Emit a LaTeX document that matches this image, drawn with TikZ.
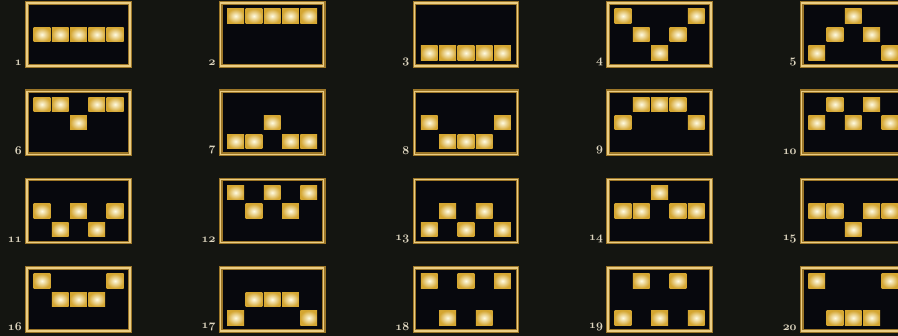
\documentclass[tikz,border=0pt]{standalone}
\definecolor{bg}{HTML}{141511}
\definecolor{inner}{HTML}{07080D}
\definecolor{goldA}{HTML}{9C7628}
\definecolor{goldB}{HTML}{EBCD84}
\definecolor{cellout}{HTML}{D4A632}
\definecolor{cellin}{HTML}{FFFBE2}
\definecolor{lbl}{HTML}{DED6C0}
\begin{document}
\begin{tikzpicture}[x=1pt,y=-1pt,
  framebox/.style={fill=inner},
  frameouter/.style={draw=goldA,line width=3.8pt},
  frameinner/.style={draw=goldB,line width=1.3pt},
  cellbox/.style={inner color=cellin,outer color=cellout},
  numlabel/.style={anchor=south east,inner sep=0pt,text=lbl,font=\usefont{OML}{cmm}{b}{it}\fontsize{12}{12}\selectfont}]
\useasboundingbox (0,0) rectangle (898,336);
\clip (0,0) rectangle (898,336);
\fill[bg] (0,0) rectangle (898,336);
\foreach \n/\a/\b/\c/\d/\e in {
  1/1/1/1/1/1, 2/0/0/0/0/0, 3/2/2/2/2/2, 4/0/1/2/1/0, 5/2/1/0/1/2,
  6/0/0/1/0/0, 7/2/2/1/2/2, 8/1/2/2/2/1, 9/1/0/0/0/1, 10/1/0/1/0/1,
  11/1/2/1/2/1, 12/0/1/0/1/0, 13/2/1/2/1/2, 14/1/1/0/1/1, 15/1/1/2/1/1,
  16/0/1/1/1/0, 17/2/1/1/1/2, 18/0/2/0/2/0, 19/2/0/2/0/2, 20/0/2/2/2/0}{
  \pgfmathsetmacro{\col}{int(mod(\n-1,5))}
  \pgfmathsetmacro{\row}{int((\n-1)/5)}
  \pgfmathsetmacro{\xo}{27+193.7*\col}
  \pgfmathsetmacro{\yo}{3+88.3*\row}
  \fill[framebox] (\xo,\yo) rectangle ++(103,63);
  \draw[frameouter] (\xo,\yo) rectangle ++(103,63);
  \draw[frameinner] (\xo,\yo) rectangle ++(103,63);
  \foreach \k/\r in {1/\a,2/\b,3/\c,4/\d,5/\e}{
    \pgfmathsetmacro{\cx}{\xo+51.5+(\k-3)*18.3}
    \pgfmathsetmacro{\cy}{\yo+13+18.5*\r}
    \shade[cellbox] (\cx-8.4,\cy-7.2) rectangle ++(16.8,14.4);
  }
  \node[numlabel] (lab\n) at (\xo-5,\yo+63) {\n};
}
\end{tikzpicture}
\end{document}
